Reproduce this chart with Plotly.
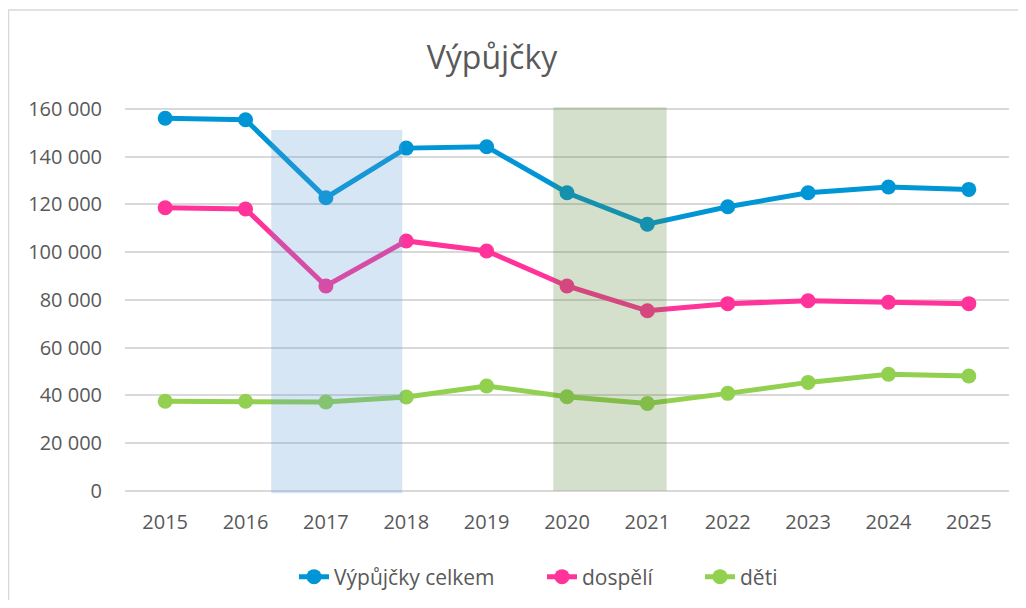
import plotly.graph_objects as go

years = [2015, 2016, 2017, 2018, 2019, 2020, 2021, 2022, 2023, 2024, 2025]
celkem = [156100, 155500, 122800, 143600, 144200, 124900, 111700, 119000, 124900, 127300, 126300]
dospeli = [118600, 118100, 85800, 104700, 100500, 85800, 75400, 78400, 79600, 79000, 78400]
deti = [37500, 37500, 37200, 39300, 43900, 39400, 36600, 40800, 45400, 48800, 48100]
series_names = ["Výpůjčky celkem", "dospělí", "děti"]
series_colors = ["#0096D6", "#FF3399", "#92D050"]

FONT = "Open Sans"
GRAY = "#595959"

# page body has an 8px margin: figure sits at (8, 8)
W, H = 1010, 592
L, R, T, B = 117, 9, 97, 106
PW, PH = W - L - R, H - T - B

def px_x(x):
    return (x - L) / PW

def px_y(y):
    return (H - B - y) / PH

fig = go.Figure()
legends = ["legend", "legend2", "legend3"]
for name, vals, col, lg in zip(series_names, [celkem, dospeli, deti], series_colors, legends):
    fig.add_trace(go.Scatter(
        x=years, y=vals, name=name, mode="lines+markers",
        line=dict(color=col, width=5),
        marker=dict(color=col, size=15),
        legend=lg,
    ))

# shaded periods
fig.add_shape(type="rect", xref="x", yref="y", x0=2016.32, x1=2017.95, y0=-1100, y1=151200,
              fillcolor="rgba(91,155,213,0.25)", line=dict(width=0), layer="above")
fig.add_shape(type="rect", xref="x", yref="y", x0=2019.83, x1=2021.24, y0=0, y1=160700,
              fillcolor="rgba(84,130,53,0.25)", line=dict(width=0), layer="above")

# chart border
fig.add_shape(type="rect", xref="paper", yref="paper", x0=px_x(0.5), x1=px_x(1100), y0=px_y(700), y1=px_y(2),
              line=dict(color="#D9D9D9", width=1.5), fillcolor="rgba(0,0,0,0)", layer="below")

fig.add_annotation(x=2017.16, y=167960, xref="x", yref="y", text="stěhování", showarrow=False,
                   font=dict(family=FONT, size=17, color="black"))
fig.add_annotation(x=2020.49, y=166290, xref="x", yref="y", text="Covid", showarrow=False,
                   font=dict(family=FONT, size=17, color="black"))

leg_common = dict(orientation="h", yanchor="middle", xanchor="left", xref="container", yref="container",
                  font=dict(family=FONT, size=21, color=GRAY), bgcolor="rgba(0,0,0,0)")
leg_y = 1 - (577 - 8) / H
fig.update_layout(
    width=W, height=H,
    margin=dict(l=L, r=R, t=T, b=B, autoexpand=False),
    paper_bgcolor="white", plot_bgcolor="white",
    separators=", ",
    font=dict(family=FONT, color=GRAY, size=20),
    title=dict(text="Výpůjčky", x=(492 - 8) / W, xref="container", xanchor="center",
               y=1 - (58 - 8) / H, yref="container", yanchor="middle",
               font=dict(family=FONT, size=32, color=GRAY)),
    legend=dict(x=(294 - 8) / W, y=leg_y, **leg_common),
    legend2=dict(x=(542 - 8) / W, y=leg_y, **leg_common),
    legend3=dict(x=(700 - 8) / W, y=leg_y, **leg_common),
    showlegend=True,
)
fig.update_xaxes(range=[2014.5, 2025.5], tickvals=years, ticktext=[str(y) for y in years],
                 showgrid=False, zeroline=False, showline=False, ticks="",
                 ticklabelstandoff=14, tickfont=dict(size=20, color=GRAY))
fig.update_yaxes(range=[-1383, 161677], tick0=0, dtick=20000, tickformat=",d",
                 showgrid=True, gridcolor="#D9D9D9", gridwidth=1.5, zeroline=False,
                 showline=False, ticks="", ticklabelstandoff=22,
                 tickfont=dict(size=20, color=GRAY))

fig.write_html("out.html")
